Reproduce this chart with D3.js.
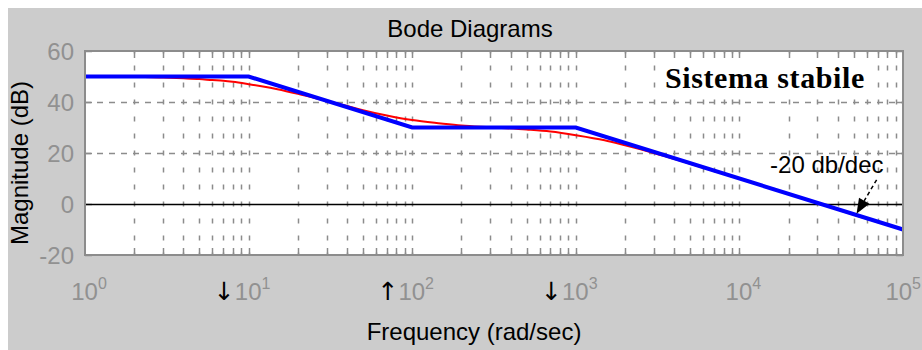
<!DOCTYPE html>
<html>
<head>
<meta charset="utf-8">
<script src="https://cdn.jsdelivr.net/npm/d3@7"></script>
<style>
    html, body { margin: 0; padding: 0; background: white; }
    svg { display: block; font-family: "Liberation Sans", Arial, sans-serif; }
</style>
</head>
<body>
<script>
(function () {
    "use strict";

    // decades on the frequency axis
    var decades = [1, 10, 100, 1000, 10000, 100000];
    var decadeExp = ["0", "1", "2", "3", "4", "5"];
    // pole / zero markers drawn in front of the labels
    var decadeMarks = ["", "\u2193", "\u2191", "\u2193", "", ""];

    var magTicks = [-20, 0, 20, 40, 60];
    var gridMags = [20, 40];

    // asymptotic approximation (blue)
    var asymFreq = [1, 10, 100, 1000, 100000];
    var asymMag = [50, 50, 30, 30, -10];

    var exactFreq = [1, 2, 3, 4, 5, 6, 7, 8, 10, 12.5, 15, 20, 30, 40, 50, 70, 100,
        150, 200, 300, 500, 700, 1000, 1500, 2000, 3000, 5000, 10000, 20000, 50000, 100000];
    var exactMag = [50, 49.9, 49.6, 49.3, 49, 48.6, 48.3, 47.9, 47, 46, 45, 43.2, 40.4, 38.4, 36.8, 34.7, 32.9,
        31.6, 30.8, 30.1, 29.2, 28.4, 27, 25, 23, 20, 15.8, 10, 4, -4.2, -10];

    var W = 922, H = 350;
    var plot = {left: 85, right: 903, top: 51, bottom: 255};

    var x = d3.scaleLog().domain([1, 100000]).range([plot.left, plot.right]);
    var y = d3.scaleLinear().domain([-20, 60]).range([plot.bottom, plot.top]);

    var svg = d3.select("body").append("svg")
            .attr("width", W)
            .attr("height", H);

    // white strip on top / left, grey figure window behind the axes
    svg.append("rect").attr("width", W).attr("height", H).attr("fill", "white");
    svg.append("rect")
            .attr("x", 8).attr("y", 8)
            .attr("width", W - 8).attr("height", H - 8)
            .attr("fill", "#cccccc");

    svg.append("rect")
            .attr("x", plot.left).attr("y", plot.top)
            .attr("width", plot.right - plot.left)
            .attr("height", plot.bottom - plot.top)
            .attr("fill", "white");

    var gridColor = "#8c8c8c";

    // vertical grid on every 1..9 x 10^k
    var minor = x.ticks().filter(function (f) {
        return f > 1 && f < 100000;
    });

    svg.append("g").selectAll("line")
            .data(minor)
            .enter().append("line")
            .attr("x1", function (f) { return Math.round(x(f)) + 0.5; })
            .attr("x2", function (f) { return Math.round(x(f)) + 0.5; })
            .attr("y1", plot.top)
            .attr("y2", plot.bottom)
            .attr("stroke", gridColor)
            .attr("stroke-width", 1.5)
            .attr("stroke-dasharray", "5,12")
            .attr("stroke-dashoffset", 2.5);

    svg.append("g").selectAll("line")
            .data(gridMags)
            .enter().append("line")
            .attr("x1", plot.left)
            .attr("x2", plot.right)
            .attr("y1", function (d) { return Math.round(y(d)) + 0.5; })
            .attr("y2", function (d) { return Math.round(y(d)) + 0.5; })
            .attr("stroke", gridColor)
            .attr("stroke-width", 1.5)
            .attr("stroke-dasharray", "6,6");

    // ticks inside the box, top and bottom
    var tickLen = 7;
    [plot.top, plot.bottom].forEach(function (yy, i) {
        svg.append("g").selectAll("line")
                .data(minor)
                .enter().append("line")
                .attr("x1", function (f) { return Math.round(x(f)) + 0.5; })
                .attr("x2", function (f) { return Math.round(x(f)) + 0.5; })
                .attr("y1", yy)
                .attr("y2", i === 0 ? yy + tickLen : yy - tickLen)
                .attr("stroke", gridColor)
                .attr("stroke-width", 1.5);
    });

    [plot.left, plot.right].forEach(function (xx, i) {
        svg.append("g").selectAll("line")
                .data(magTicks)
                .enter().append("line")
                .attr("x1", xx)
                .attr("x2", i === 0 ? xx + tickLen : xx - tickLen)
                .attr("y1", function (d) { return Math.round(y(d)) + 0.5; })
                .attr("y2", function (d) { return Math.round(y(d)) + 0.5; })
                .attr("stroke", gridColor)
                .attr("stroke-width", 1.5);
    });

    // 0 dB line
    svg.append("line")
            .attr("x1", plot.left).attr("x2", plot.right)
            .attr("y1", Math.round(y(0)) + 0.5).attr("y2", Math.round(y(0)) + 0.5)
            .attr("stroke", "black")
            .attr("stroke-width", 1.5);

    // "Sistema stabile" with its white backing
    svg.append("rect")
            .attr("x", 660).attr("y", 59)
            .attr("width", 210).attr("height", 37)
            .attr("fill", "white");
    svg.append("text")
            .attr("x", 665).attr("y", 88)
            .style("font-family", "'Liberation Serif', 'Times New Roman', serif")
            .style("letter-spacing", "0.6px")
            .attr("font-weight", "bold")
            .attr("font-size", 30)
            .attr("fill", "black")
            .text("Sistema stabile");

    // curves
    var line = d3.line()
            .x(function (d) { return x(d[0]); })
            .y(function (d) { return y(d[1]); });

    svg.append("path")
            .datum(d3.zip(exactFreq, exactMag))
            .attr("d", line.curve(d3.curveMonotoneX))
            .attr("fill", "none")
            .attr("stroke", "#ff0000")
            .attr("stroke-width", 2);

    svg.append("path")
            .datum(d3.zip(asymFreq, asymMag))
            .attr("d", line.curve(d3.curveLinear))
            .attr("fill", "none")
            .attr("stroke", "#0000ff")
            .attr("stroke-width", 4);

    // slope annotation
    svg.append("text")
            .attr("x", x(15400)).attr("y", y(12.2))
            .attr("font-size", 24)
            .attr("fill", "black")
            .text("-20 db/dec");

    var tail = [x(69000), y(9.5)], tip = [x(52000), y(-3.8)];
    var ang = Math.atan2(tip[1] - tail[1], tip[0] - tail[0]);
    var headLen = 15, headW = 6;
    var base = [tip[0] - headLen * Math.cos(ang), tip[1] - headLen * Math.sin(ang)];

    svg.append("line")
            .attr("x1", tail[0]).attr("y1", tail[1])
            .attr("x2", base[0]).attr("y2", base[1])
            .attr("stroke", "black")
            .attr("stroke-width", 1.5)
            .attr("stroke-dasharray", "4,3");
    svg.append("path")
            .attr("d", "M" + tip[0] + "," + tip[1] +
                    "L" + (base[0] + headW * Math.sin(ang)) + "," + (base[1] - headW * Math.cos(ang)) +
                    "L" + (base[0] - headW * Math.sin(ang)) + "," + (base[1] + headW * Math.cos(ang)) + "Z")
            .attr("fill", "black");

    // axes box
    svg.append("rect")
            .attr("x", plot.left).attr("y", plot.top)
            .attr("width", plot.right - plot.left)
            .attr("height", plot.bottom - plot.top)
            .attr("fill", "none")
            .attr("stroke", "#8c8c8c")
            .attr("stroke-width", 2);

    // tick labels
    var labelColor = "#919191";

    svg.append("g").selectAll("text")
            .data(magTicks)
            .enter().append("text")
            .attr("x", plot.left - 11)
            .attr("y", function (d) { return y(d); })
            .attr("dy", "0.36em")
            .attr("text-anchor", "end")
            .attr("font-size", 24)
            .attr("fill", labelColor)
            .text(function (d) { return d; });

    var last = decades.length - 1;
    var xl = svg.append("g").selectAll("text")
            .data(decades)
            .enter().append("text")
            // last label is pushed against the window edge
            .attr("x", function (f, i) { return i === last ? W - 1 : x(f) + 4; })
            .attr("y", 300)
            .attr("text-anchor", function (f, i) { return i === last ? "end" : "middle"; })
            .attr("font-size", 24)
            .attr("fill", labelColor);

    xl.append("tspan").text("10");
    xl.append("tspan")
            .attr("dy", -11)
            .attr("font-size", 16)
            .text(function (f, i) { return decadeExp[i]; });

    xl.each(function (f, i) {
        if (!decadeMarks[i]) return;
        var bb = this.getBBox();
        svg.append("text")
                .attr("x", bb.x)
                .attr("y", 300)
                .attr("text-anchor", "end")
                .style("font-family", "'DejaVu Sans', sans-serif")
                .attr("font-size", 25)
                .attr("fill", "black")
                .text(decadeMarks[i]);
    });

    // titles
    svg.append("text")
            .attr("x", 470).attr("y", 37)
            .attr("text-anchor", "middle")
            .attr("font-size", 24)
            .attr("fill", "black")
            .text("Bode Diagrams");

    svg.append("text")
            .attr("x", 474).attr("y", 340)
            .attr("text-anchor", "middle")
            .attr("font-size", 24)
            .attr("fill", "black")
            .text("Frequency (rad/sec)");

    svg.append("text")
            .attr("transform", "translate(28,163) rotate(-90)")
            .attr("text-anchor", "middle")
            .attr("font-size", 24)
            .attr("fill", "black")
            .text("Magnitude (dB)");

})();
</script>
</body>
</html>
